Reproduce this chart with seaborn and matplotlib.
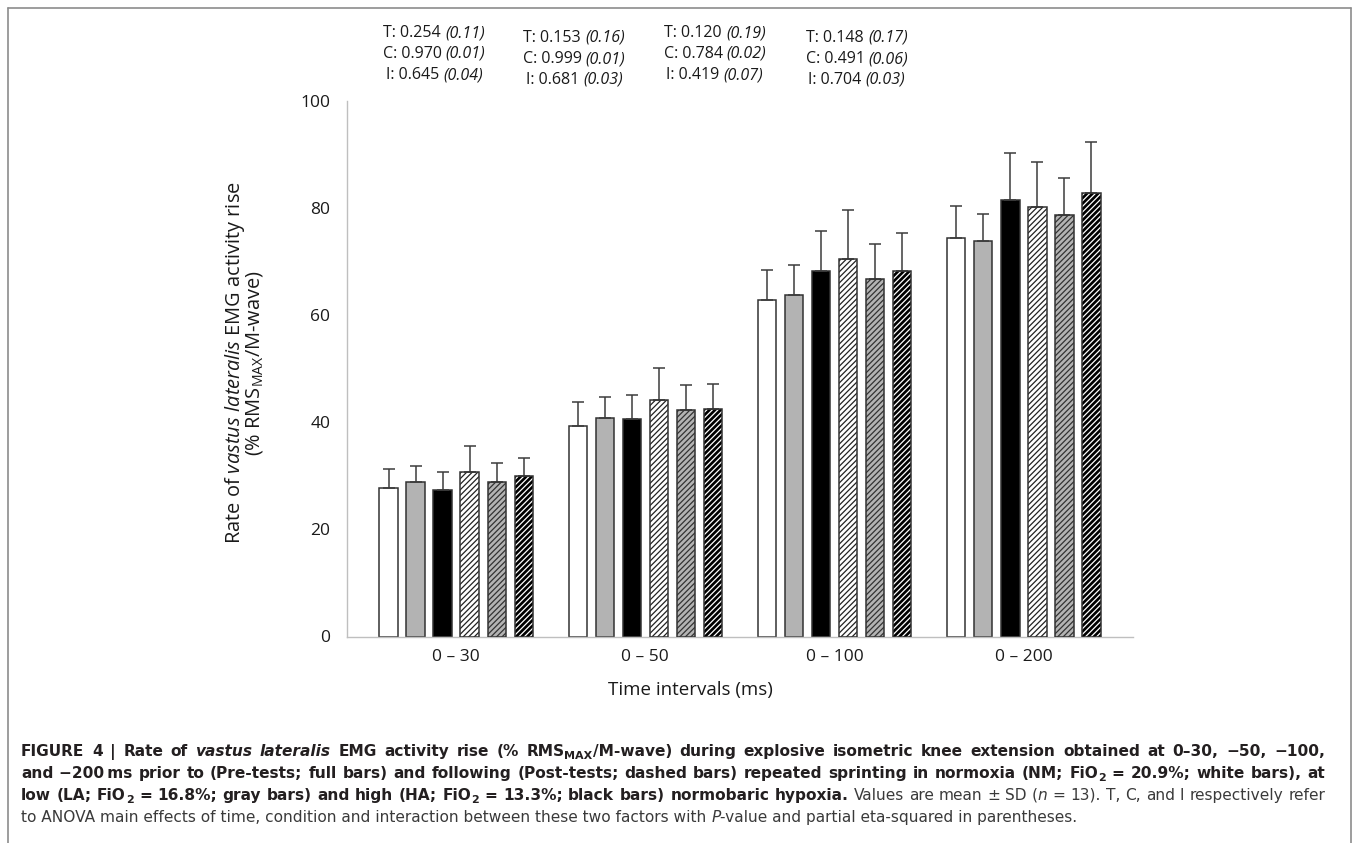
import re
import numpy as np
import pandas as pd
import matplotlib
matplotlib.use("Agg")
import matplotlib.pyplot as plt
import seaborn as sns
from matplotlib.patches import Rectangle
from matplotlib.transforms import IdentityTransform
from matplotlib.lines import Line2D

# data
intervals = ['0 – 30', '0 – 50', '0 – 100', '0 – 200']
conditions = ['NM pre', 'LA pre', 'HA pre', 'NM post', 'LA post', 'HA post']

nm_pre = [27.7, 39.3, 62.8, 74.4]
la_pre = [28.9, 40.8, 63.7, 73.8]
ha_pre = [27.4, 40.7, 68.2, 81.5]
nm_post = [30.8, 44.1, 70.5, 80.2]
la_post = [28.9, 42.3, 66.8, 78.7]
ha_post = [29.9, 42.5, 68.3, 82.9]

nm_pre_sd = [3.6, 4.4, 5.6, 5.9]
la_pre_sd = [3.0, 3.9, 5.6, 5.1]
ha_pre_sd = [3.4, 4.4, 7.5, 8.7]
nm_post_sd = [4.7, 6.1, 9.2, 8.4]
la_post_sd = [3.5, 4.6, 6.5, 7.0]
ha_post_sd = [3.4, 4.7, 7.0, 9.5]

t_p = ['0.254', '0.153', '0.120', '0.148']
t_eta = ['0.11', '0.16', '0.19', '0.17']
c_p = ['0.970', '0.999', '0.784', '0.491']
c_eta = ['0.01', '0.01', '0.02', '0.06']
i_p = ['0.645', '0.681', '0.419', '0.704']
i_eta = ['0.04', '0.03', '0.07', '0.03']

means = [nm_pre, la_pre, ha_pre, nm_post, la_post, ha_post]
sds = [nm_pre_sd, la_pre_sd, ha_pre_sd, nm_post_sd, la_post_sd, ha_post_sd]

rows = []
for cond, vals in zip(conditions, means):
    for iv, v in zip(intervals, vals):
        rows.append({'interval': iv, 'condition': cond, 'value': v})
df = pd.DataFrame(rows)

sns.set_style("white")
plt.rcParams['font.family'] = ['Open Sans', 'DejaVu Sans']
plt.rcParams['mathtext.fontset'] = 'custom'
plt.rcParams['mathtext.rm'] = 'Open Sans'
plt.rcParams['mathtext.it'] = 'Open Sans:italic'
plt.rcParams['hatch.linewidth'] = 0.9

W, H = 1358, 843
fig = plt.figure(figsize=(W / 100, H / 100), dpi=100)
ax = fig.add_axes([347 / W, 1 - 636.5 / H, (1133 - 347) / W, (636.5 - 101) / H])

face = ['white', '#b3b3b3', 'black', 'white', '#b3b3b3', 'black']
hatch_col = [None, None, None, '#222222', '#333333', 'white']

sns.barplot(data=df, x='interval', y='value', hue='condition', order=intervals,
            hue_order=conditions, palette=face, width=0.856, gap=0.33,
            errorbar=None, edgecolor='#333333', linewidth=1.1, legend=False, ax=ax)

bar_groups = list(ax.containers)
for k, cont in enumerate(bar_groups):
    xs, ys = [], []
    for bar in cont:
        xs.append(bar.get_x() + bar.get_width() / 2)
        ys.append(bar.get_height())
        if hatch_col[k] is not None:
            bar.set_hatch('//////')
            bar.set_edgecolor(hatch_col[k])
            bar.set_linewidth(0)
            ax.add_patch(Rectangle((bar.get_x(), 0), bar.get_width(), bar.get_height(),
                                   fill=False, edgecolor='#333333', linewidth=1.1, zorder=3))
    ax.errorbar(xs, ys, yerr=[np.zeros(len(ys)), sds[k]], fmt='none', ecolor='#3c3c3c',
                elinewidth=1.1, capsize=4.5, capthick=1.1, zorder=1)

ax.set_xlim(-0.576, 3.576)
ax.set_ylim(0, 100)
ax.set_yticks([0, 20, 40, 60, 80, 100])
ax.set_xlabel('')
ax.set_ylabel('')
for s in ['top', 'right']:
    ax.spines[s].set_visible(False)
for s in ['left', 'bottom']:
    ax.spines[s].set_color('#bfbfbf')
    ax.spines[s].set_linewidth(1.0)
ax.tick_params(axis='y', length=5, width=1, color='#bfbfbf', pad=7, labelsize=12.5, labelcolor='#1a1a1a')
ax.tick_params(axis='x', length=0, pad=9, labelsize=12.5, labelcolor='#1a1a1a')

fig.text(244 / W, 1 - 363 / H,
         'Rate of $\\it{vastus\\ lateralis}$ EMG activity rise\n(% RMS$_{\\mathrm{MAX}}$/M-wave)',
         rotation=90, ha='center', va='center', multialignment='center', linespacing=0.85,
         fontsize=14.4, color='#1a1a1a')
fig.text(690 / W, 1 - 690 / H, 'Time intervals (ms)', ha='center', va='center',
         fontsize=13.5, color='#1a1a1a')

# frame around the figure
frame = '#8c8c8c'
fig.add_artist(Line2D([8 / W, 8 / W], [0, 1 - 8 / H], color=frame, lw=1.2))
fig.add_artist(Line2D([8 / W, 1351 / W], [1 - 8 / H, 1 - 8 / H], color=frame, lw=1.2))
fig.add_artist(Line2D([1351 / W, 1351 / W], [0, 1 - 8 / H], color=frame, lw=1.2))

renderer = fig.canvas.get_renderer()


def run_width(s, props):
    a = fig.text(0, 0, s + '|', transform=IdentityTransform(), **props)
    b = fig.text(0, 0, '|', transform=IdentityTransform(), **props)
    w = a.get_window_extent(renderer).width - b.get_window_extent(renderer).width
    a.remove()
    b.remove()
    return w


def tokens(runs, split):
    out = []
    for s, p, dy in runs:
        pieces = re.split(r'( )', s) if split else [s]
        for piece in pieces:
            if piece:
                out.append((piece, p, dy, run_width(piece, p)))
    return out


def draw_runs(x, y_top, runs, ha='left', target=None):
    # target: justify the line to this width by widening the spaces
    y = H - y_top
    toks = tokens(runs, split=target is not None)
    natural = sum(t[3] for t in toks)
    extra = 0.0
    if target is not None:
        n_sp = sum(1 for t in toks if t[0] == ' ')
        extra = max(target - natural, 0) / max(n_sp, 1)
    cx = x - natural / 2 if ha == 'center' else x
    for s, p, dy, w in toks:
        if s == ' ':
            cx += w + extra
            continue
        fig.text(cx, y + dy, s, transform=IdentityTransform(), va='baseline', **p)
        cx += w


# ANOVA annotations
ann_font = dict(family='Open Sans', fontsize=11.5, color='#1a1a1a')
ann_it = dict(ann_font, style='italic')
ann_x = [434, 574, 715, 857]
ann_y = [[37, 58, 79], [42, 63, 84], [37, 58, 79], [42, 63, 84]]
for g in range(4):
    lines = [('T: ' + t_p[g], t_eta[g]), ('C: ' + c_p[g], c_eta[g]), ('I: ' + i_p[g], i_eta[g])]
    for (a, b), yy in zip(lines, ann_y[g]):
        draw_runs(ann_x[g], yy, [(a + ' ', ann_font, 0), ('(' + b + ')', ann_it, 0)], ha='center')


# caption
def caption_styles(cs):
    bold = dict(family='DejaVu Sans', fontsize=cs, weight='bold', color='#231f20')
    reg = dict(family='DejaVu Sans', fontsize=cs, color='#3a3a3a')
    return dict(b=bold, bi=dict(bold, style='italic'), bs=dict(bold, fontsize=cs * 0.72),
                r=reg, ri=dict(reg, style='italic'))


def caption_lines(st):
    sub_dy = -3
    return [
        [('FIGURE 4 | Rate of ', st['b'], 0), ('vastus lateralis', st['bi'], 0),
         (' EMG activity rise (% RMS', st['b'], 0), ('MAX', st['bs'], sub_dy),
         ('/M-wave) during explosive isometric knee extension obtained at 0–30, −50, −100,', st['b'], 0)],
        [('and −200\u2009ms prior to (Pre-tests; full bars) and following (Post-tests; dashed bars) '
          'repeated sprinting in normoxia (NM; FiO', st['b'], 0), ('2', st['bs'], sub_dy),
         (' = 20.9%; white bars), at', st['b'], 0)],
        [('low (LA; FiO', st['b'], 0), ('2', st['bs'], sub_dy),
         (' = 16.8%; gray bars) and high (HA; FiO', st['b'], 0), ('2', st['bs'], sub_dy),
         (' = 13.3%; black bars) normobaric hypoxia.', st['b'], 0),
         (' Values are mean ± SD (', st['r'], 0), ('n', st['ri'], 0),
         (' = 13). T, C, and I respectively refer', st['r'], 0)],
        [('to ANOVA main effects of time, condition and interaction between these two factors with ', st['r'], 0),
         ('P', st['ri'], 0), ('-value and partial eta-squared in parentheses.', st['r'], 0)],
    ]


# font size: the widest of the justified lines must fit the text block
x0, x1 = 21, 1325
base = 10.0
base_lines = caption_lines(caption_styles(base))[:3]
widest = max(sum(run_width(s, p) for s, p, dy in ln) for ln in base_lines)
cs = base * (x1 - x0) / widest

cap = caption_lines(caption_styles(cs))
for i, (line, yy) in enumerate(zip(cap, [756, 778, 800, 822])):
    draw_runs(x0, yy, line, target=(x1 - x0) if i < 3 else None)

fig.savefig('out.png', dpi=100)
